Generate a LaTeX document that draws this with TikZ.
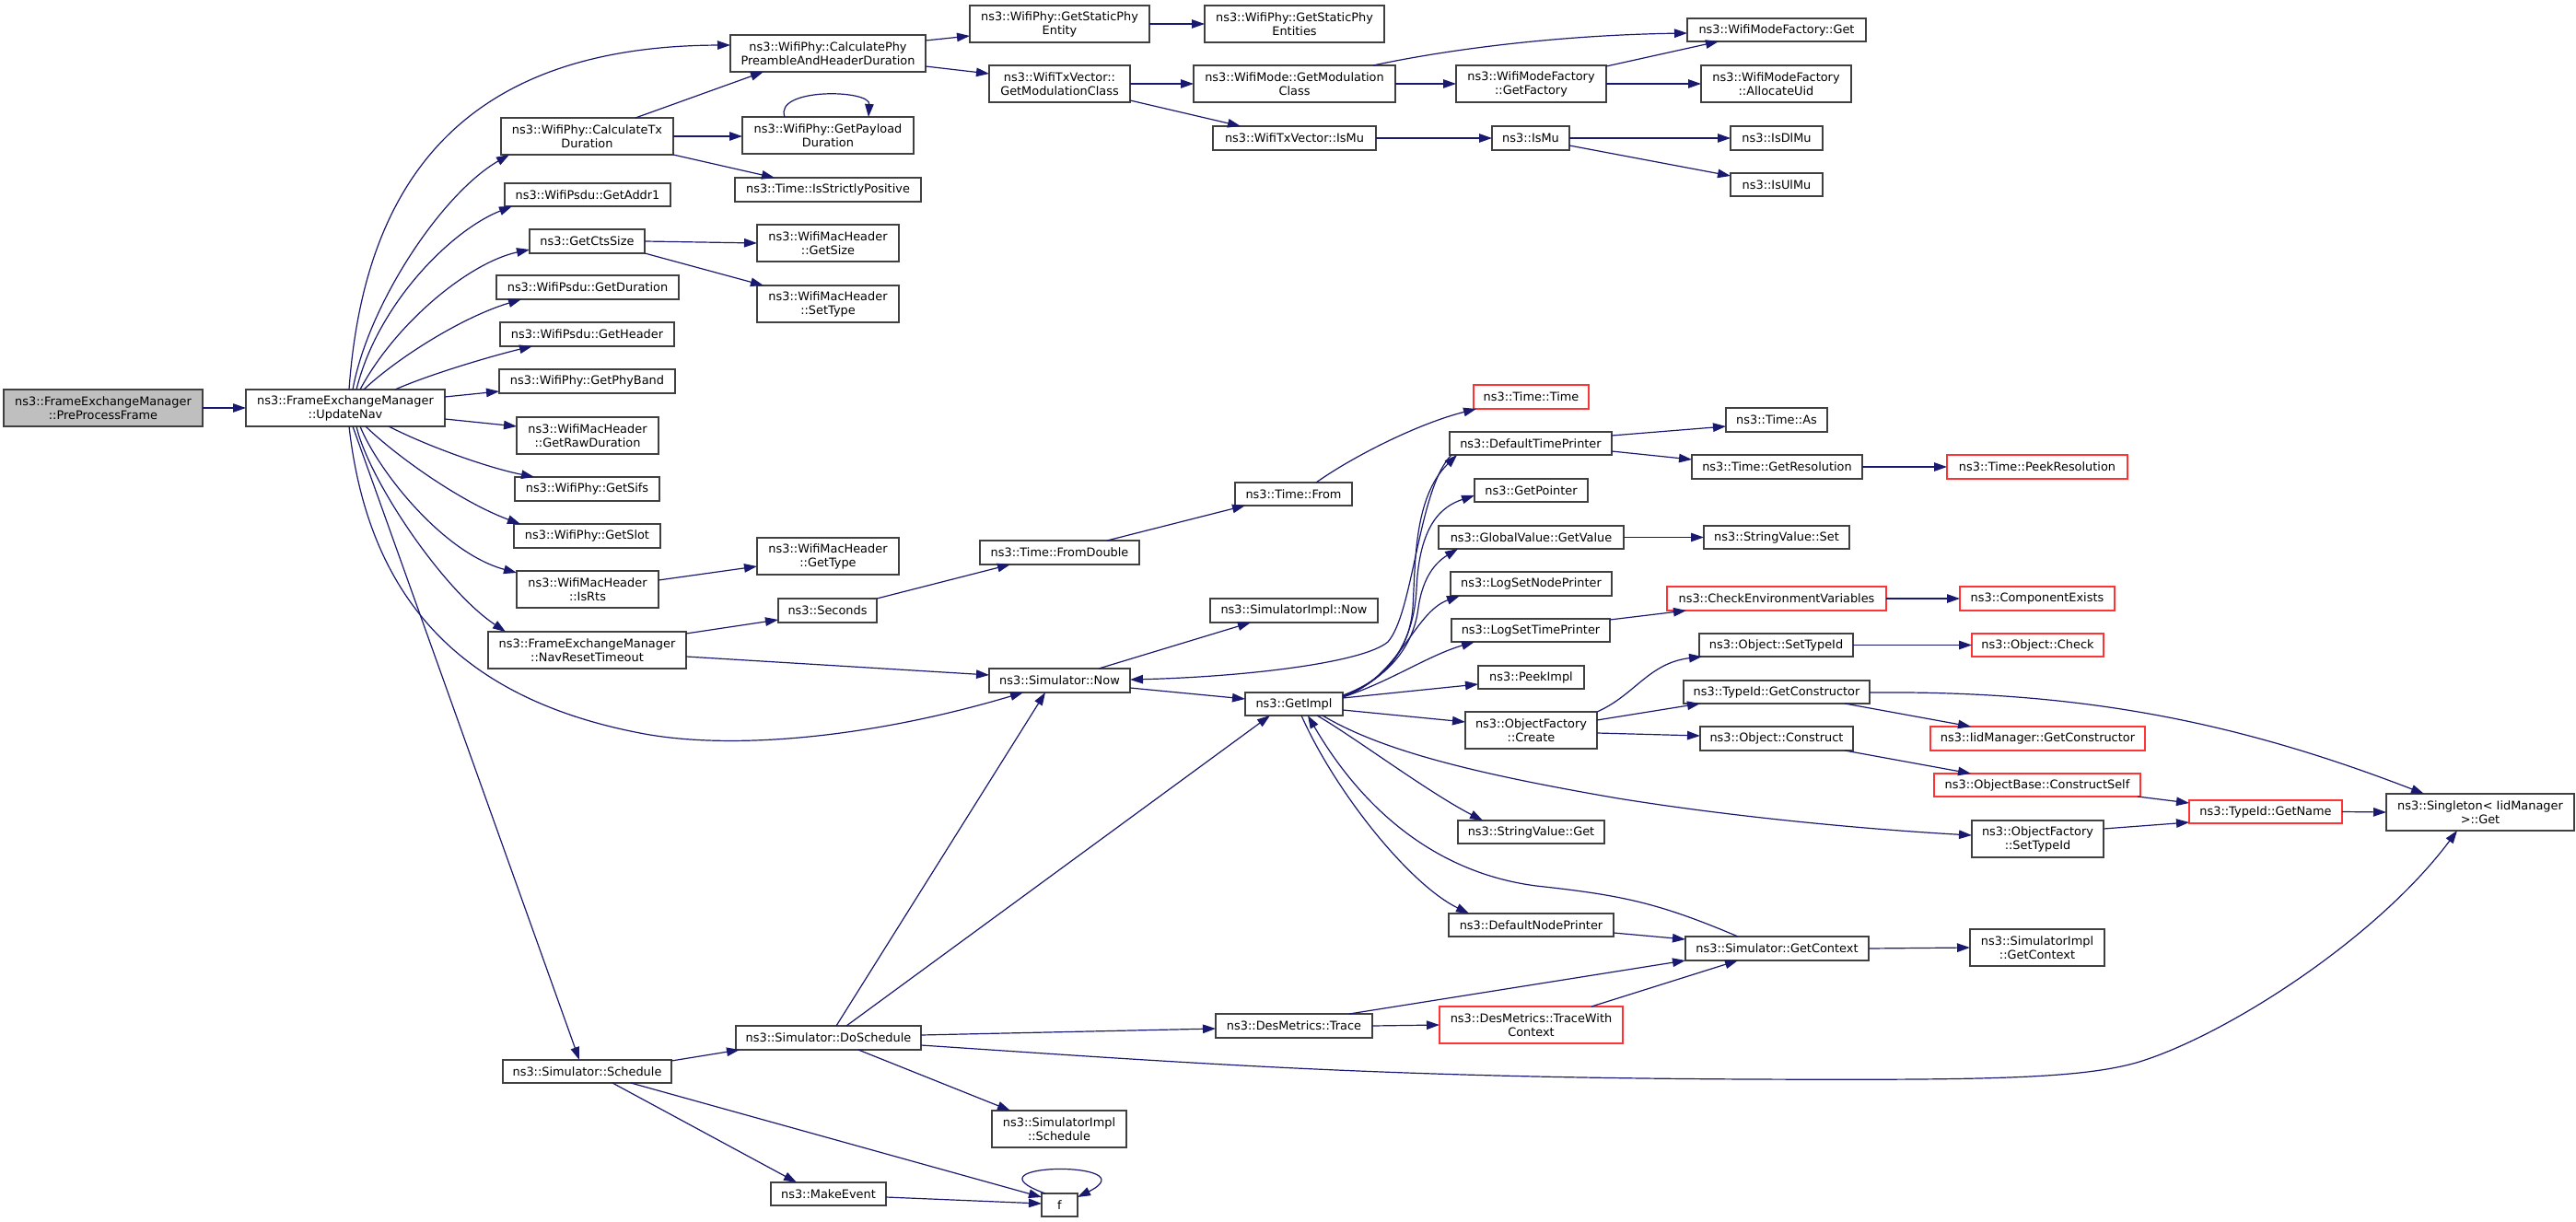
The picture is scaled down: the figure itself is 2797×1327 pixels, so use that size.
\documentclass[tikz,border=0pt]{standalone}
\usepackage{fontspec}
\setmainfont{DejaVu Sans}
\usetikzlibrary{arrows.meta,calc}
\definecolor{edgecol}{HTML}{191970}
\definecolor{bordcol}{HTML}{404040}
\definecolor{redcol}{HTML}{FF3333}
\definecolor{rootfill}{HTML}{BFBFBF}
\begin{document}
\begin{tikzpicture}[x=1bp,y=-1bp,
  box/.style={draw=bordcol, line width=1.4bp, fill=white, inner sep=0pt, outer sep=0pt,
    align=center, anchor=north west, font=\fontsize{12.9bp}{15bp}\selectfont},
  redbox/.style={box, draw=redcol},
  rootbox/.style={box, fill=rootfill},
  call/.style={draw=edgecol, line width=1.2bp, -{Triangle[length=14bp,width=9.5bp]}}]
\fill[white] (0,0) rectangle (2797,1327);
\useasboundingbox (0,0) rectangle (2797,1327);
% ---------- nodes ----------
\node[rootbox, minimum width=216bp, minimum height=40bp] (pre) at (4,423) {ns3::FrameExchangeManager\\::PreProcessFrame};
\node[box, minimum width=216bp, minimum height=40bp] (upd) at (267,423) {ns3::FrameExchangeManager\\::UpdateNav};
\node[box, minimum width=187bp, minimum height=40bp] (ctx) at (544,128) {ns3::WifiPhy::CalculateTx\\Duration};
\node[box, minimum width=180bp, minimum height=25bp] (addr1) at (548,199) {ns3::WifiPsdu::GetAddr1};
\node[box, minimum width=125bp, minimum height=26bp] (cts) at (575,249) {ns3::GetCtsSize};
\node[box, minimum width=198bp, minimum height=26bp] (dur) at (539,299) {ns3::WifiPsdu::GetDuration};
\node[box, minimum width=189bp, minimum height=26bp] (hdr) at (543,350) {ns3::WifiPsdu::GetHeader};
\node[box, minimum width=191bp, minimum height=26bp] (band) at (542,401) {ns3::WifiPhy::GetPhyBand};
\node[box, minimum width=154bp, minimum height=40bp] (raw) at (561,453) {ns3::WifiMacHeader\\::GetRawDuration};
\node[box, minimum width=157bp, minimum height=26bp] (sifs) at (559,518) {ns3::WifiPhy::GetSifs};
\node[box, minimum width=159bp, minimum height=26bp] (slot) at (558,569) {ns3::WifiPhy::GetSlot};
\node[box, minimum width=154bp, minimum height=40bp] (isrts) at (561,620) {ns3::WifiMacHeader\\::IsRts};
\node[box, minimum width=215bp, minimum height=40bp] (navr) at (530,686) {ns3::FrameExchangeManager\\::NavResetTimeout};
\node[box, minimum width=183bp, minimum height=25bp] (sched) at (546,1151) {ns3::Simulator::Schedule};
\node[box, minimum width=212bp, minimum height=40bp] (cppd) at (793,38) {ns3::WifiPhy::CalculatePhy\\PreambleAndHeaderDuration};
\node[box, minimum width=186bp, minimum height=40bp] (payl) at (806,127) {ns3::WifiPhy::GetPayload\\Duration};
\node[box, minimum width=202bp, minimum height=26bp] (strict) at (798,193) {ns3::Time::IsStrictlyPositive};
\node[box, minimum width=154bp, minimum height=40bp] (gsize) at (822,244) {ns3::WifiMacHeader\\::GetSize};
\node[box, minimum width=154bp, minimum height=40bp] (stype) at (822,310) {ns3::WifiMacHeader\\::SetType};
\node[box, minimum width=154bp, minimum height=40bp] (gtype) at (822,584) {ns3::WifiMacHeader\\::GetType};
\node[box, minimum width=107bp, minimum height=26bp] (secs) at (845,650) {ns3::Seconds};
\node[box, minimum width=201bp, minimum height=26bp] (dosch) at (799,1114) {ns3::Simulator::DoSchedule};
\node[box, minimum width=125bp, minimum height=25bp] (mkev) at (837,1284) {ns3::MakeEvent};
\node[box, minimum width=195bp, minimum height=40bp] (spe) at (1053,6) {ns3::WifiPhy::GetStaticPhy\\Entity};
\node[box, minimum width=153bp, minimum height=40bp] (tvmc) at (1074,71) {ns3::WifiTxVector::\\GetModulationClass};
\node[box, minimum width=173bp, minimum height=26bp] (fromd) at (1064,587) {ns3::Time::FromDouble};
\node[box, minimum width=153bp, minimum height=26bp] (snow) at (1074,726) {ns3::Simulator::Now};
\node[box, minimum width=146bp, minimum height=40bp] (simsch) at (1077,1206) {ns3::SimulatorImpl\\::Schedule};
\node[box, minimum width=39bp, minimum height=25bp] (f) at (1131,1296) {f};
\node[box, minimum width=195bp, minimum height=40bp] (spes) at (1308,6) {ns3::WifiPhy::GetStaticPhy\\Entities};
\node[box, minimum width=219bp, minimum height=40bp] (wmmc) at (1296,71) {ns3::WifiMode::GetModulation\\Class};
\node[box, minimum width=177bp, minimum height=26bp] (tvmu) at (1317,137) {ns3::WifiTxVector::IsMu};
\node[box, minimum width=127bp, minimum height=25bp] (tfrom) at (1341,524) {ns3::Time::From};
\node[box, minimum width=182bp, minimum height=26bp] (sinow) at (1314,650) {ns3::SimulatorImpl::Now};
\node[box, minimum width=106bp, minimum height=25bp] (gimpl) at (1352,752) {ns3::GetImpl};
\node[box, minimum width=170bp, minimum height=26bp] (dmtr) at (1320,1101) {ns3::DesMetrics::Trace};
\node[box, minimum width=163bp, minimum height=40bp] (gfac) at (1581,71) {ns3::WifiModeFactory\\::GetFactory};
\node[box, minimum width=84bp, minimum height=26bp] (ismu) at (1620,137) {ns3::IsMu};
\node[redbox, minimum width=125bp, minimum height=26bp] (ttime) at (1600,418) {ns3::Time::Time};
\node[box, minimum width=176bp, minimum height=25bp] (dtp) at (1574,469) {ns3::DefaultTimePrinter};
\node[box, minimum width=123bp, minimum height=25bp] (gptr) at (1601,520) {ns3::GetPointer};
\node[box, minimum width=201bp, minimum height=25bp] (gval) at (1562,571) {ns3::GlobalValue::GetValue};
\node[box, minimum width=175bp, minimum height=26bp] (lsnp) at (1575,621) {ns3::LogSetNodePrinter};
\node[box, minimum width=172bp, minimum height=25bp] (lstp) at (1576,672) {ns3::LogSetTimePrinter};
\node[box, minimum width=115bp, minimum height=25bp] (peek) at (1605,723) {ns3::PeekImpl};
\node[box, minimum width=143bp, minimum height=40bp] (ofcr) at (1591,773) {ns3::ObjectFactory\\::Create};
\node[box, minimum width=159bp, minimum height=25bp] (svget) at (1583,891) {ns3::StringValue::Get};
\node[box, minimum width=179bp, minimum height=25bp] (dnp) at (1573,992) {ns3::DefaultNodePrinter};
\node[redbox, minimum width=199bp, minimum height=40bp] (twc) at (1563,1093) {ns3::DesMetrics::TraceWith\\Context};
\node[box, minimum width=194bp, minimum height=25bp] (wmfget) at (1832,20) {ns3::WifiModeFactory::Get};
\node[box, minimum width=163bp, minimum height=40bp] (auid) at (1847,71) {ns3::WifiModeFactory\\::AllocateUid};
\node[box, minimum width=100bp, minimum height=26bp] (isdl) at (1879,137) {ns3::IsDlMu};
\node[box, minimum width=100bp, minimum height=25bp] (isul) at (1879,188) {ns3::IsUlMu};
\node[box, minimum width=110bp, minimum height=26bp] (tas) at (1874,443) {ns3::Time::As};
\node[box, minimum width=185bp, minimum height=26bp] (tgres) at (1837,494) {ns3::Time::GetResolution};
\node[box, minimum width=158bp, minimum height=25bp] (svset) at (1850,571) {ns3::StringValue::Set};
\node[redbox, minimum width=238bp, minimum height=26bp] (cenv) at (1810,637) {ns3::CheckEnvironmentVariables};
\node[box, minimum width=167bp, minimum height=25bp] (osti) at (1845,688) {ns3::Object::SetTypeId};
\node[box, minimum width=202bp, minimum height=25bp] (tgc) at (1828,739) {ns3::TypeId::GetConstructor};
\node[box, minimum width=166bp, minimum height=26bp] (ocon) at (1846,789) {ns3::Object::Construct};
\node[box, minimum width=199bp, minimum height=26bp] (sgc) at (1830,1017) {ns3::Simulator::GetContext};
\node[redbox, minimum width=196bp, minimum height=26bp] (tpres) at (2114,494) {ns3::Time::PeekResolution};
\node[redbox, minimum width=168bp, minimum height=26bp] (cexist) at (2128,637) {ns3::ComponentExists};
\node[redbox, minimum width=143bp, minimum height=25bp] (ocheck) at (2141,688) {ns3::Object::Check};
\node[redbox, minimum width=233bp, minimum height=26bp] (iidgc) at (2096,789) {ns3::IidManager::GetConstructor};
\node[redbox, minimum width=224bp, minimum height=25bp] (ocs) at (2100,840) {ns3::ObjectBase::ConstructSelf};
\node[box, minimum width=143bp, minimum height=40bp] (ofsti) at (2141,891) {ns3::ObjectFactory\\::SetTypeId};
\node[box, minimum width=146bp, minimum height=40bp] (sigc) at (2139,1009) {ns3::SimulatorImpl\\::GetContext};
\node[redbox, minimum width=166bp, minimum height=25bp] (tgname) at (2377,869) {ns3::TypeId::GetName};
\node[box, minimum width=204bp, minimum height=40bp] (singl) at (2591,862) {ns3::Singleton< IidManager\\>::Get};
% ---------- connectors ----------
\draw[call] (pre.east) -- (upd.west);
\draw[call] ($(upd.north west)+(112,0)$) .. controls (395,200) and (500,50) .. ($(cppd.north west)+(0,11)$);
\draw[call] ($(upd.north west)+(116,0)$) .. controls (400,330) and (480,210) .. ($(ctx.south west)+(9,0)$);
\draw[call] ($(upd.north west)+(120,0)$) .. controls (410,330) and (490,250) .. ($(addr1.south west)+(8,0)$);
\draw[call] ($(upd.north west)+(124,0)$) .. controls (430,350) and (510,285) .. ($(cts.north west)+(0,22)$);
\draw[call] ($(upd.north west)+(128,0)$) .. controls (430,390) and (500,345) .. ($(dur.south west)+(27,0)$);
\draw[call] ($(upd.north west)+(162,0)$) .. controls (470,405) and (540,385) .. ($(hdr.south west)+(35,0)$);
\draw[call] ($(upd.north east)+(0,8)$) -- ($(band.north west)+(0,24)$);
\draw[call] ($(upd.north east)+(0,32)$) -- ($(raw.north west)+(0,10)$);
\draw[call] ($(upd.south west)+(155,0)$) .. controls (465,485) and (530,508) .. ($(sifs.north west)+(21,0)$);
\draw[call] ($(upd.south west)+(130,0)$) .. controls (430,495) and (500,545) .. ($(slot.north west)+(7,0)$);
\draw[call] ($(upd.south west)+(124,0)$) .. controls (410,510) and (480,600) .. ($(isrts.north west)+(0,2)$);
\draw[call] ($(upd.south west)+(120,0)$) .. controls (400,520) and (480,640) .. ($(navr.north west)+(19,0)$);
\draw[call] ($(upd.south west)+(112,0)$) .. controls (400,650) and (500,760) .. (700,797)
  .. controls (800,815) and (950,800) .. ($(snow.south west)+(37,0)$);
\draw[call] ($(upd.south west)+(116,0)$) -- ($(sched.north west)+(83,0)$);
\draw[call] ($(ctx.north west)+(146,0)$) -- ($(cppd.south west)+(36,0)$);
\draw[call] (ctx.east) -- ($(payl.west)+(0,1)$);
\draw[call] (ctx.south east) -- ($(strict.north west)+(43,0)$);
\draw[call] ($(cppd.north east)+(0,6)$) -- ($(spe.north west)+(0,33)$);
\draw[call] ($(cppd.north east)+(0,34)$) -- ($(tvmc.north west)+(0,9)$);
\draw[call] (spe.east) -- (spes.west);
\draw[call] (tvmc.east) -- (wmmc.west);
\draw[call] ($(tvmc.south east)+(0,-2)$) -- ($(tvmu.north west)+(30,0)$);
\draw[call] ($(wmmc.north west)+(195,0)$) .. controls (1580,52) and (1700,38) .. ($(wmfget.north west)+(0,16)$);
\draw[call] (wmmc.east) -- (gfac.west);
\draw[call] ($(gfac.north east)+(0,1)$) -- ($(wmfget.south west)+(34,0)$);
\draw[call] (gfac.east) -- (auid.west);
\draw[call] (tvmu.east) -- (ismu.west);
\draw[call] (ismu.east) -- (isdl.west);
\draw[call] ($(ismu.north east)+(0,21)$) -- ($(isul.north west)+(0,3)$);
\draw[call] ($(payl.north west)+(46,0)$) .. controls (840,95) and (945,97) .. ($(payl.north west)+(137,0)$);
\draw[call] (cts.east) -- (gsize.west);
\draw[call] (cts.south east) -- ($(stype.north west)+(7,0)$);
\draw[call] ($(isrts.north east)+(0,10)$) -- ($(gtype.north west)+(0,31)$);
\draw[call] ($(navr.north east)+(0,2)$) -- ($(secs.north west)+(0,23)$);
\draw[call] ($(navr.north east)+(0,27)$) -- ($(snow.north west)+(0,7)$);
\draw[call] (secs.north east) -- ($(fromd.south west)+(33,0)$);
\draw[call] ($(fromd.north west)+(138,0)$) -- ($(tfrom.south west)+(11,0)$);
\draw[call] ($(tfrom.north west)+(88,0)$) .. controls (1470,495) and (1540,460) .. ($(ttime.south west)+(3,0)$);
\draw[call] ($(snow.north west)+(119,0)$) -- ($(sinow.south west)+(44,0)$);
\draw[call] ($(snow.north east)+(0,21)$) -- ($(gimpl.north west)+(0,7)$);
\draw[call] ($(dtp.south west)+(2,0)$) .. controls (1540,530) and (1535,665) .. (1507,697)
  .. controls (1480,720) and (1350,735) .. ($(snow.north east)+(0,12)$);
\draw[call] ($(gimpl.north east)+(0,3)$) .. controls (1500,740) and (1530,710) .. (1534,660)
  .. controls (1537,610) and (1535,540) .. ($(dtp.south west)+(8,0)$);
\draw[call] ($(gimpl.north east)+(0,4)$) .. controls (1505,740) and (1535,700) .. (1538,640)
  .. controls (1541,570) and (1565,550) .. ($(gptr.north west)+(0,18)$);
\draw[call] ($(gimpl.north east)+(0,4)$) .. controls (1510,735) and (1535,700) .. (1540,660)
  .. controls (1545,625) and (1560,610) .. ($(gval.south west)+(21,0)$);
\draw[call] ($(gimpl.north east)+(0,5)$) .. controls (1520,735) and (1535,665) .. ($(lsnp.south west)+(10,0)$);
\draw[call] ($(gimpl.north east)+(0,5)$) .. controls (1510,740) and (1550,712) .. ($(lstp.south west)+(25,0)$);
\draw[call] ($(gimpl.north east)+(0,6)$) -- ($(peek.north west)+(0,20)$);
\draw[call] ($(gimpl.south east)+(0,-6)$) -- ($(ofcr.north west)+(0,11)$);
\draw[call] ($(gimpl.south west)+(78,0)$) .. controls (1470,800) and (1550,860) .. ($(svget.north west)+(27,0)$);
\draw[call] ($(gimpl.south west)+(61,0)$) .. controls (1450,860) and (1530,960) .. ($(dnp.north west)+(22,0)$);
\draw[call] ($(gimpl.south west)+(84,0)$) .. controls (1500,815) and (1600,840) .. (1757,867)
  .. controls (1900,890) and (2050,902) .. ($(ofsti.north west)+(0,16)$);
\draw[call] ($(sgc.north west)+(57,0)$) .. controls (1800,980) and (1760,972) .. (1668,962)
  .. controls (1560,948) and (1480,880) .. ($(gimpl.south west)+(68,0)$);
\draw[call] ($(dosch.north west)+(120,0)$) -- ($(gimpl.south west)+(27,0)$);
\draw[call] ($(dosch.north west)+(109,0)$) -- ($(snow.south west)+(61,0)$);
\draw[call] ($(dtp.north east)+(0,4)$) -- ($(tas.north west)+(0,20)$);
\draw[call] ($(dtp.south east)+(0,-4)$) -- ($(tgres.north west)+(0,5)$);
\draw[call] (tgres.east) -- (tpres.west);
\draw[call] (gval.east) -- (svset.west);
\draw[call] ($(lstp.north east)+(0,1)$) -- ($(cenv.south west)+(21,0)$);
\draw[call] (cenv.east) -- (cexist.west);
\draw[call] (ofcr.north east) .. controls (1775,755) and (1790,720) .. ($(osti.south west)+(3,0)$);
\draw[call] ($(ofcr.north east)+(0,9)$) -- ($(tgc.south west)+(18,0)$);
\draw[call] ($(ofcr.north east)+(0,23)$) -- ($(ocon.north west)+(0,10)$);
\draw[call] (osti.east) -- (ocheck.west);
\draw[call] ($(tgc.south west)+(175,0)$) -- ($(iidgc.north west)+(44,0)$);
\draw[call] ($(tgc.north east)+(0,13)$) .. controls (2250,750) and (2420,780) .. ($(singl.north west)+(41,0)$);
\draw[call] ($(ocon.south west)+(157,0)$) -- ($(ocs.north west)+(40,0)$);
\draw[call] ($(ocs.south east)+(-3,0)$) -- ($(tgname.north west)+(0,3)$);
\draw[call] ($(ofsti.north east)+(0,9)$) -- ($(tgname.north west)+(0,24)$);
\draw[call] (tgname.east) -- (singl.west);
\draw[call] ($(dosch.north east)+(0,21)$) .. controls (1300,1155) and (1500,1170) .. (1900,1172)
  .. controls (2150,1173) and (2260,1172) .. (2323,1153)
  .. controls (2417,1124) and (2580,1020) .. ($(singl.south west)+(77,0)$);
\draw[call] ($(dosch.north east)+(0,10)$) -- ($(dmtr.north west)+(0,16)$);
\draw[call] ($(dosch.south west)+(133,0)$) -- ($(simsch.north west)+(20,0)$);
\draw[call] (dmtr.east) -- (twc.west);
\draw[call] ($(dmtr.north west)+(145,0)$) -- (sgc.south west);
\draw[call] ($(twc.north west)+(165,0)$) -- ($(sgc.south west)+(57,0)$);
\draw[call] ($(dnp.north east)+(0,21)$) -- ($(sgc.north west)+(0,3)$);
\draw[call] (sgc.east) -- (sigc.west);
\draw[call] ($(sched.north east)+(0,1)$) -- ($(dosch.south west)+(4,0)$);
\draw[call] ($(sched.south west)+(119,0)$) -- ($(mkev.north west)+(28,0)$);
\draw[call] ($(sched.south west)+(139,0)$) -- ($(f.north west)+(0,4)$);
\draw[call] ($(mkev.east)+(0,3.5)$) -- ($(f.north west)+(0,11)$);
\draw[call] ($(f.north west)+(4,0)$) .. controls (1040,1262) and (1250,1260) .. ($(f.north east)+(0,4)$);
\end{tikzpicture}
\end{document}
